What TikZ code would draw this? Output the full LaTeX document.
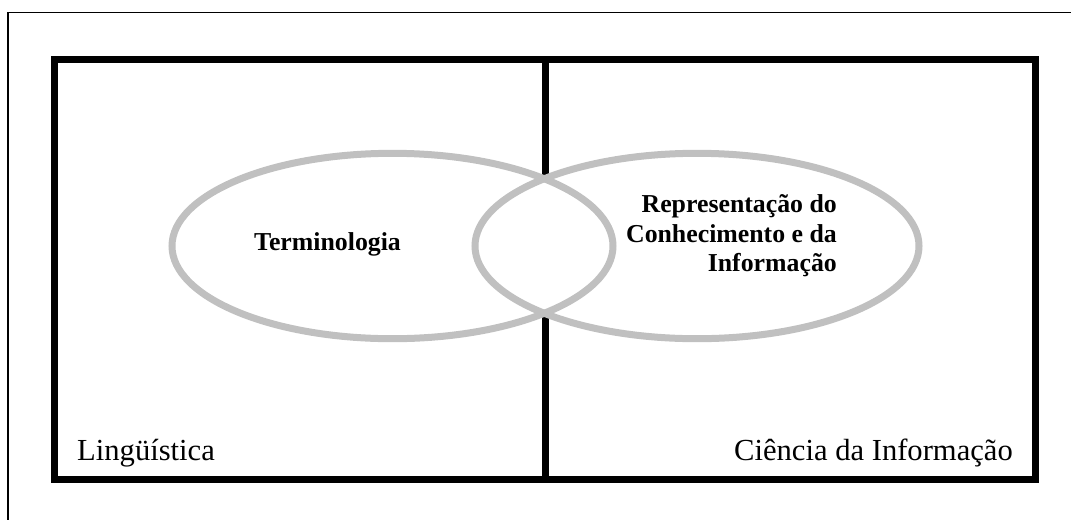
\documentclass[tikz,border=0pt]{standalone}
\usepackage{fontspec}
\setmainfont{Liberation Serif}
\begin{document}
\begin{tikzpicture}[x=1pt,y=-1pt,
  frameline/.style={line width=7pt,draw=black},
  ellline/.style={line width=7pt,draw=ellgray},
  thin/.style={line width=1.6pt,draw=black},
  boldlabel/.style={inner sep=0pt,font=\fontsize{25.8}{29.5}\selectfont\bfseries},
  fieldlabel/.style={inner sep=0pt,font=\fontsize{30.6}{36}\selectfont}]
\definecolor{ellgray}{RGB}{192,192,192}
\useasboundingbox (0,0) rectangle (1071,520);
% partial outer frame (top and left only)
\draw[thin] (1071,12.5) -- (8,12.5) -- (8,520);
% main box and divider
\draw[frameline] (54.5,59.5) rectangle (1035.5,479);
\draw[frameline] (545,59.5) -- (545,479);
% ellipse fills
\fill[white] (392.5,246) ellipse [x radius=220.5, y radius=92.7];
\fill[white] (697,246) ellipse [x radius=222, y radius=92.7];
% ellipse outlines
\draw[ellline] (392.5,246) ellipse [x radius=220.5, y radius=92.7];
\draw[ellline] (697,246) ellipse [x radius=222, y radius=92.7];
% texts
\node[boldlabel,anchor=base] (term) at (327.5,250) {Terminologia};
\node[boldlabel,anchor=north east,align=right] (rep) at (837,194.5) {Representação do\\Conhecimento e da\\Informação};
\node[fieldlabel,anchor=base west] (ling) at (77,460) {Lingüística};
\node[fieldlabel,anchor=base east] (ci) at (1013,460) {Ciência da Informação};
\end{tikzpicture}
\end{document}
